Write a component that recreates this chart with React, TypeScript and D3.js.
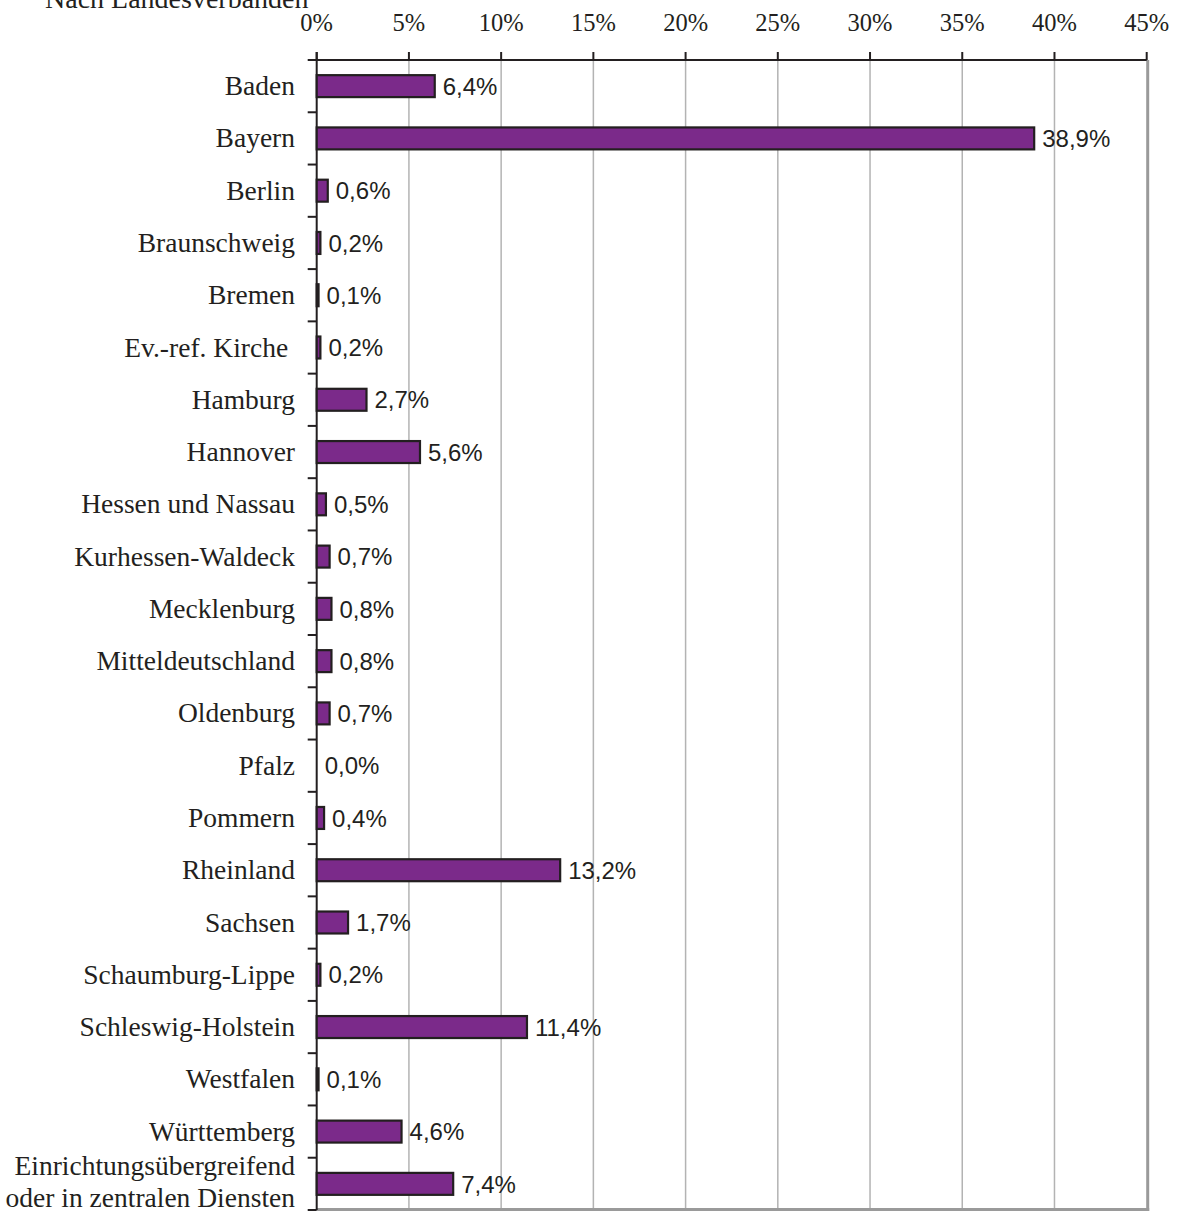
import React from "react";
import * as d3 from "d3";

const categories: string[] = [
  "Baden",
  "Bayern",
  "Berlin",
  "Braunschweig",
  "Bremen",
  "Ev.-ref. Kirche\u00A0",
  "Hamburg",
  "Hannover",
  "Hessen und Nassau",
  "Kurhessen-Waldeck",
  "Mecklenburg",
  "Mitteldeutschland",
  "Oldenburg",
  "Pfalz",
  "Pommern",
  "Rheinland",
  "Sachsen",
  "Schaumburg-Lippe",
  "Schleswig-Holstein",
  "Westfalen",
  "Württemberg",
  "Einrichtungsübergreifend\noder in zentralen Diensten",
];

const values: number[] = [
  6.4, 38.9, 0.6, 0.2, 0.1, 0.2, 2.7, 5.6, 0.5, 0.7, 0.8, 0.8, 0.7, 0.0, 0.4,
  13.2, 1.7, 0.2, 11.4, 0.1, 4.6, 7.4,
];

const xTicks: number[] = [0, 5, 10, 15, 20, 25, 30, 35, 40, 45];

const title = "Nach Landesverbanden";

const W = 1178;
const H = 1211;
const left = 316.7;
const right = 1146.7;
const top = 60;
const bottom = 1210;

const serif = "'Liberation Serif', 'Times New Roman', serif";
const sans = "'Liberation Sans', Arial, sans-serif";
const ink = "#231f20";

export default function App() {
  const x = d3.scaleLinear().domain([0, 45]).range([left, right]);
  const y = d3
    .scaleBand<string>()
    .domain(categories)
    .range([top, bottom])
    .paddingInner(0.58)
    .paddingOuter(0.29);
  const band = d3.scaleBand<string>().domain(categories).range([top, bottom]);
  const fmt = (v: number) => v.toFixed(1).replace(".", ",") + "%";

  return (
    <svg
      width={W}
      height={H}
      style={{ position: "absolute", left: 0, top: 0, background: "#fff" }}
    >
      <rect x={0} y={0} width={W} height={H} fill="#fff" />
      <text x={45} y={8} fontFamily={serif} fontSize={28} fill={ink}>
        {title}
      </text>
      {xTicks
        .filter((t) => t > 0 && t < 45)
        .map((t) => (
          <line
            key={"g" + t}
            x1={x(t)}
            x2={x(t)}
            y1={top}
            y2={bottom}
            stroke="#b3b3b3"
            strokeWidth={1.5}
          />
        ))}
      <line x1={right + 1} x2={right + 1} y1={top} y2={H} stroke="#9a9a9a" strokeWidth={3} />
      <line x1={left} x2={right + 2.5} y1={H - 1.5} y2={H - 1.5} stroke="#9a9a9a" strokeWidth={3} />
      <line x1={left - 9} x2={right} y1={top} y2={top} stroke={ink} strokeWidth={2} />
      {xTicks.map((t) => (
        <g key={"t" + t}>
          <line x1={x(t)} x2={x(t)} y1={top - 8} y2={top} stroke={ink} strokeWidth={2} />
          <text
            x={x(t)}
            y={31}
            textAnchor="middle"
            fontFamily={serif}
            fontSize={24.5}
            fill={ink}
          >
            {t + "%"}
          </text>
        </g>
      ))}
      <line x1={left} x2={left} y1={top - 8} y2={bottom} stroke={ink} strokeWidth={2} />
      {categories.map((c) => (
        <line
          key={"lt" + c}
          x1={left - 9}
          x2={left}
          y1={(band(c) as number) + band.bandwidth()}
          y2={(band(c) as number) + band.bandwidth()}
          stroke={ink}
          strokeWidth={2}
        />
      ))}
      {categories.map((c, i) => {
        const v = values[i];
        const by = y(c) as number;
        const bh = y.bandwidth();
        const cy = by + bh / 2;
        const lines = c.split("\n");
        return (
          <g key={"b" + c}>
            {v > 0 && (
              <rect
                x={x(0)}
                y={by}
                width={x(v) - x(0)}
                height={bh}
                fill="#7b2a8a"
                stroke={ink}
                strokeWidth={2.2}
              />
            )}
            <text
              x={x(v) + 8}
              y={cy}
              dy="0.36em"
              fontFamily={sans}
              fontSize={24}
              fill={ink}
            >
              {fmt(v)}
            </text>
            {lines.length === 1 ? (
              <text
                x={295}
                y={cy}
                dy="0.33em"
                textAnchor="end"
                fontFamily={serif}
                fontSize={27.5}
                fill={ink}
                style={{ whiteSpace: "pre" }}
              >
                {c}
              </text>
            ) : (
              lines.map((l, k) => (
                <text
                  key={k}
                  x={295}
                  y={cy - 1.5 + (k - 0.5) * 32}
                  dy="0.33em"
                  textAnchor="end"
                  fontFamily={serif}
                  fontSize={27.5}
                  fill={ink}
                >
                  {l}
                </text>
              ))
            )}
          </g>
        );
      })}
    </svg>
  );
}
